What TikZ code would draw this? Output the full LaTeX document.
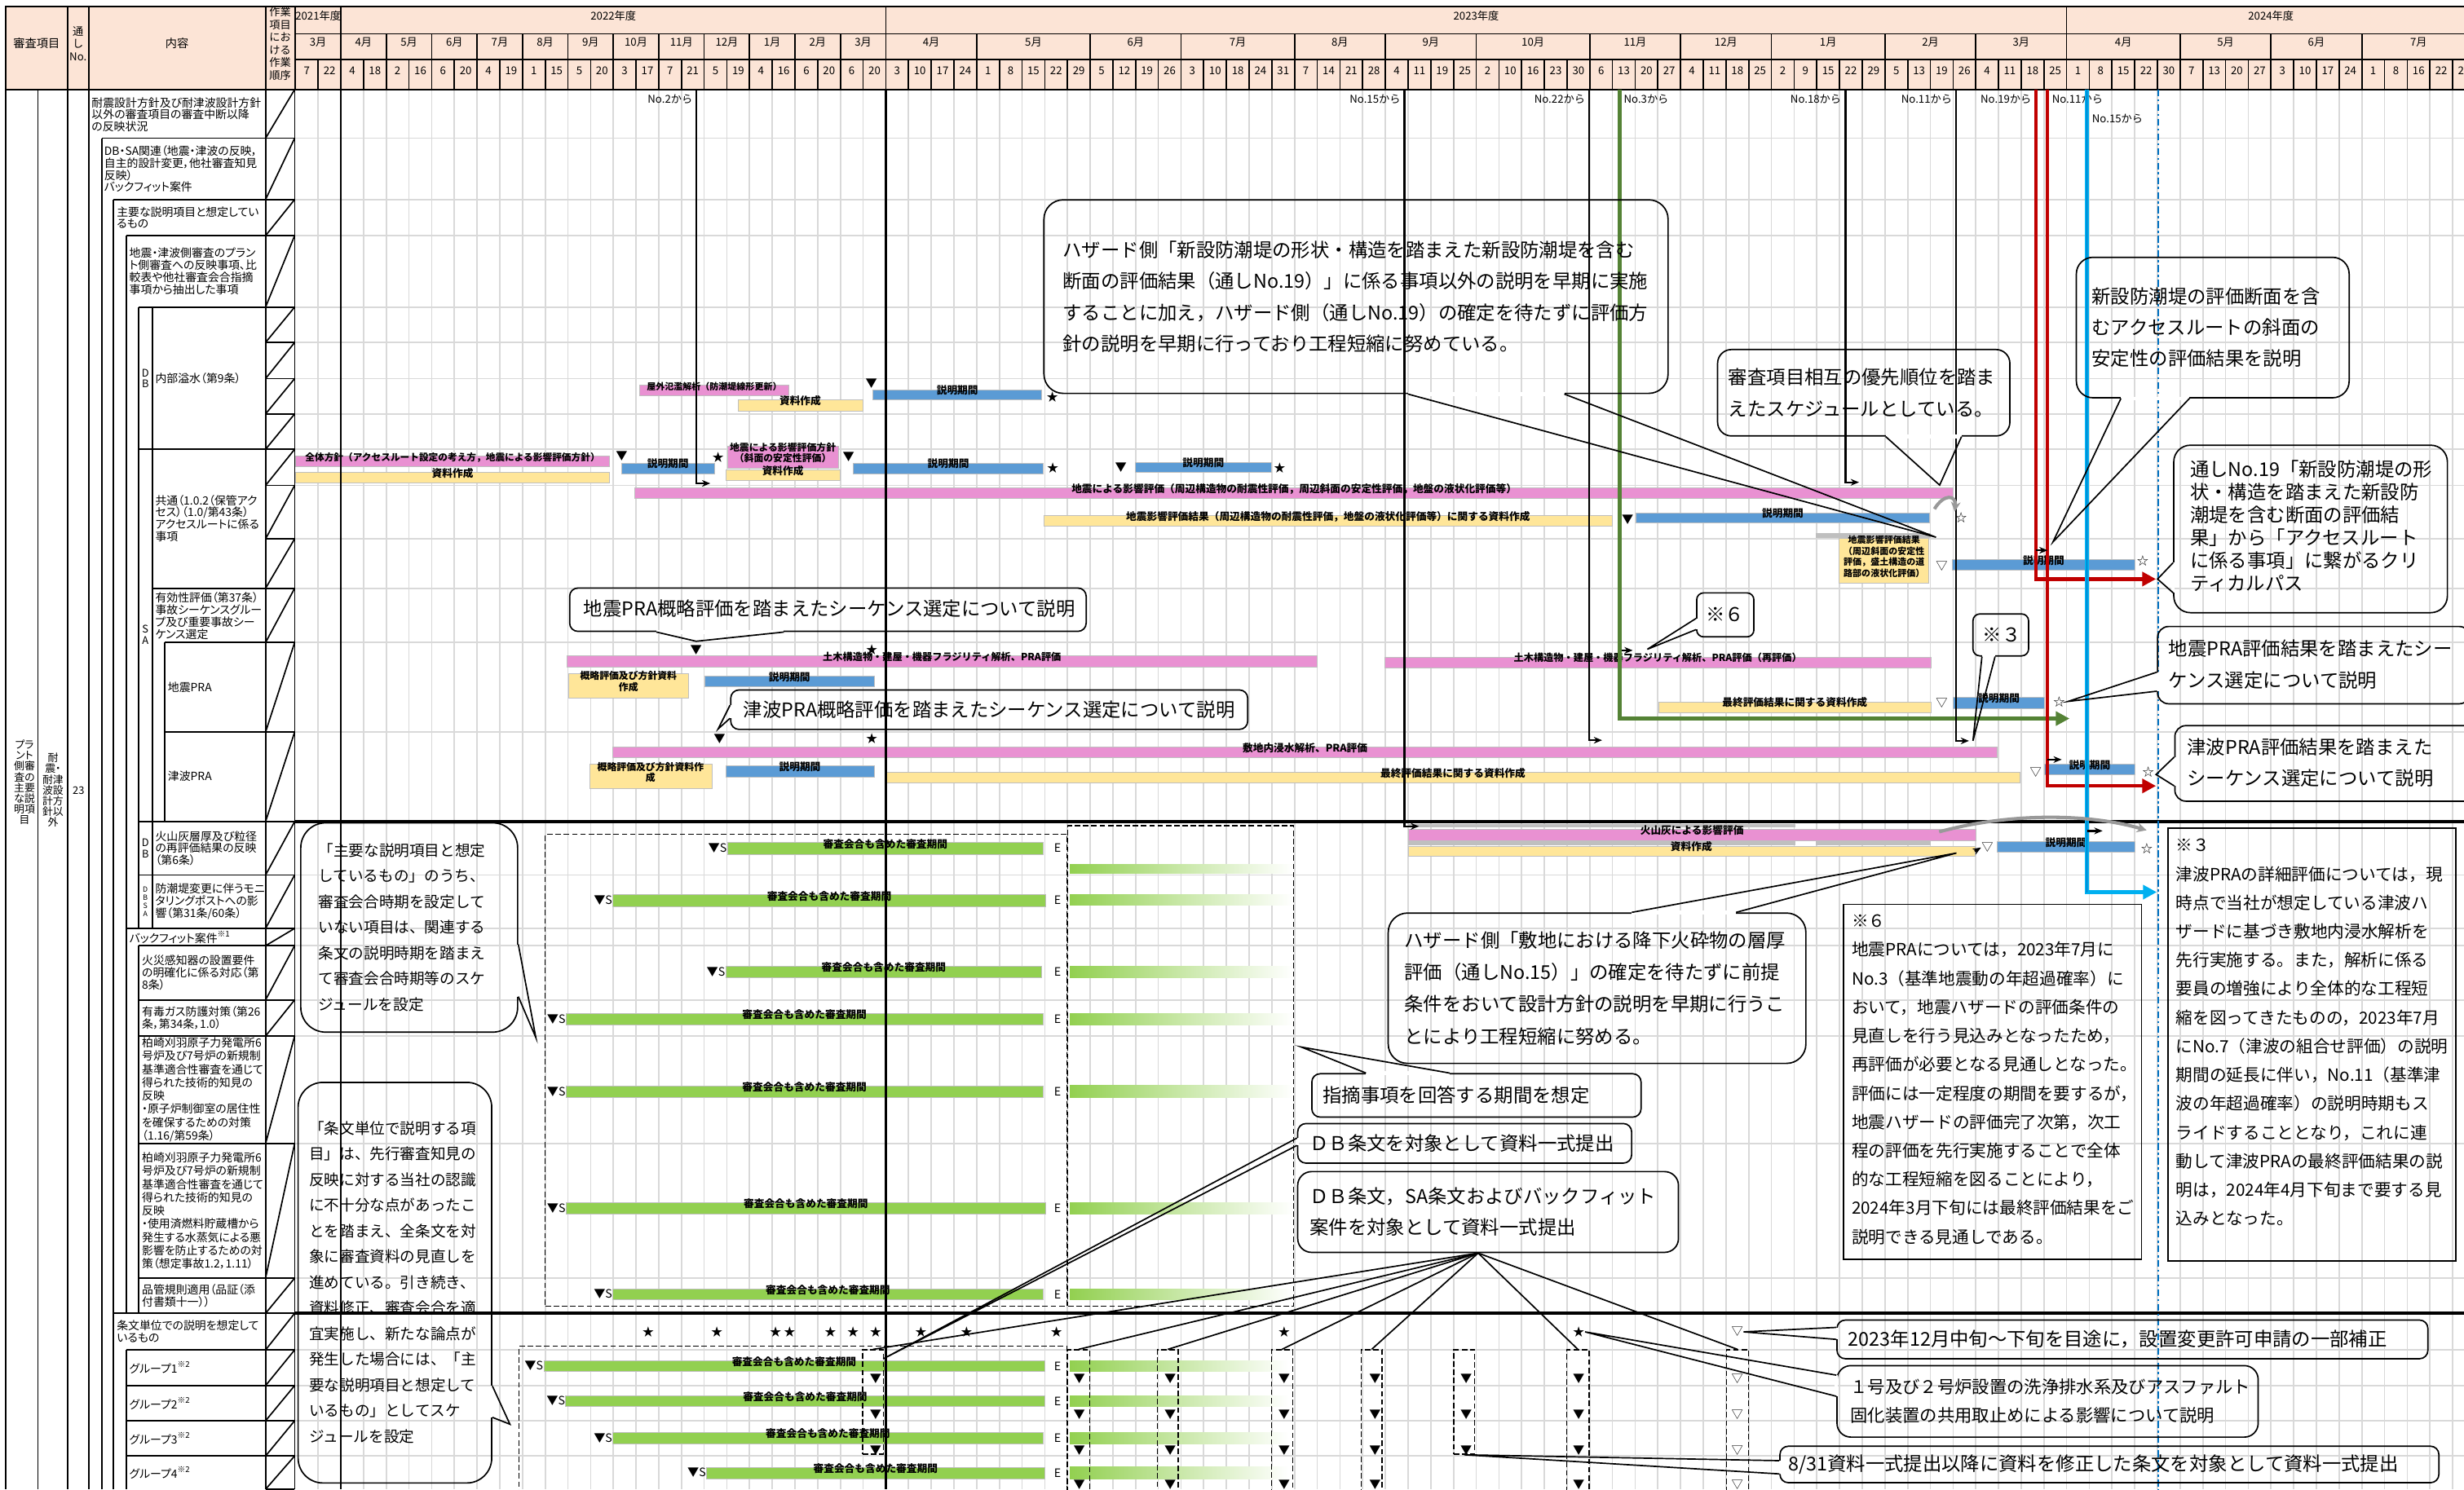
\documentclass[tikz,border=0pt]{standalone}
\usepackage{fontspec}
\setmainfont{Noto Sans CJK JP}
\newfontfamily\tabfont{Noto Sans CJK JP}[RawFeature=+palt]
\usetikzlibrary{arrows.meta,calc,fit}

\definecolor{hdrpink}{HTML}{FCE4D6}
\definecolor{gridgray}{HTML}{D9D9D9}
\definecolor{barpink}{HTML}{E991D2}
\definecolor{baryellow}{HTML}{FFE699}
\definecolor{barblue}{HTML}{5B9BD5}
\definecolor{bargreen}{HTML}{92D050}
\definecolor{bargray}{HTML}{BFBFBF}
\definecolor{pathred}{HTML}{C00000}
\definecolor{pathgreen}{HTML}{548235}
\definecolor{pathblue}{HTML}{00B0F0}
\definecolor{dotblue}{HTML}{0070C0}

\newcommand\fhead{\fontsize{3.9pt}{4.6pt}\selectfont}
\newcommand\ftab{\tabfont\fontsize{4.1pt}{4.4pt}\selectfont}
\newcommand\ftabw{\tabfont\fontsize{4.1pt}{4.8pt}\selectfont}
\newcommand\fbar{\fontsize{3.75pt}{4.2pt}\selectfont\bfseries}
\newcommand\fbarii{\fontsize{3.5pt}{3.9pt}\selectfont\bfseries}
\newcommand\fmark{\fontsize{4.2pt}{4.2pt}\selectfont}
\newcommand\fcall{\fontsize{6.9pt}{11.3pt}\selectfont}
\newcommand\fside{\fontsize{5.5pt}{9.3pt}\selectfont}
\newcommand\fnote{\fontsize{6.1pt}{10.4pt}\selectfont}

% callout tail: node, corner, corner, fraction, fraction, tip
\newcommand\tail[6]{%
  \coordinate (#1-a) at ($(#1.#2)!#4!(#1.#3)$);
  \coordinate (#1-b) at ($(#1.#2)!#5!(#1.#3)$);
  \draw[white, line width=1.3pt] (#1-a) -- (#1-b);
  \draw[line width=0.5pt, line join=miter] (#1-a) -- (#6) -- (#1-b);}

\begin{document}
\begin{tikzpicture}[
  x=0.2mm, y=-0.2mm,
  >={Stealth[length=3pt,width=2.4pt]},
  grid/.style={draw=gridgray, line width=0.5pt},
  tab/.style={line width=0.5pt},
  hdr/.style={draw, fill=hdrpink, line width=0.5pt, inner sep=0pt},
  htxt/.style={font=\fhead, align=center},
  ttxt/.style={font=\ftab, inner sep=0pt, align=left, anchor=west},
  ltr/.style={font=\tabfont\fontsize{3.8pt}{3.9pt}\selectfont, inner sep=0pt, align=center},
  bar/.style={inner sep=0pt, outer sep=0pt, draw=black!25, line width=0.2pt,
    font=\fbar, text height=2.5pt, text depth=0.4pt},
  pbar/.style={bar, fill=barpink},
  ybar/.style={bar, fill=baryellow},
  bbar/.style={bar, fill=barblue},
  gbar/.style={bar, fill=bargreen},
  graybar/.style={inner sep=0pt, fill=bargray},
  twoline/.style={text height={}, text depth={}, align=center, font=\fbarii},
  mk/.style={font=\fmark, inner sep=0pt},
  vline/.style={line width=0.7pt},
  crit/.style={line width=1.3pt, -{Triangle[length=5pt,width=5pt]}},
  call/.style={draw, rounded corners=3pt, inner sep=0pt, line width=0.5pt},
  ctxt/.style={inner sep=0pt, anchor=west, align=left, font=\fcall},
  note/.style={draw, inner sep=0pt, line width=0.5pt},
  dbox/.style={draw, dash pattern=on 2pt off 1pt, inner sep=0pt, line width=0.4pt},
  lab/.style={font=\fhead, inner sep=0pt}
]
\useasboundingbox (0,0) rectangle (1568,948);
\clip (0,0) rectangle (1568,948);
\def\cw{14.45}

% grid of the time axis
\foreach \k in {1,...,96}
  \draw[grid] ({188+\cw*\k},57) -- ({188+\cw*\k},948);
\foreach \y in {88,127,150,195.5,218,241,263.5,286,309,343,374.5,409,466,557,591,602,636.5,659.5,728,813.6,859.3,882,904.4,926.8}
  \draw[grid] (187.5,\y) -- (1568,\y);

% header
\node[hdr, htxt, font=\fontsize{4.2pt}{4.6pt}\selectfont, fit={(3.6,4.3)(43,57)}] (hItem) {審査項目};
\node[hdr, htxt, fit={(43,4.3)(56.4,57)}] (hNo) {通\\し\\No.};
\node[hdr, htxt, font=\fontsize{4.2pt}{4.6pt}\selectfont, fit={(56.4,4.3)(169,57)}] (hBody) {内容};
\node[hdr, htxt, fit={(169,4.3)(187.5,57)}] (hOrder) {作業\\項目\\にお\\ける\\作業\\順序};
\foreach \xa/\xb/\yl in {0/2/2021年度,2/26/2022年度,26/78/2023年度,78/96/2024年度}
  \node[hdr, htxt, fit={({188+\cw*\xa},4.3)({188+\cw*\xb},21.6)}] (yr\xa) {\yl};
\foreach \s/\n/\m [count=\k] in {0/2/3月,2/2/4月,4/2/5月,6/2/6月,8/2/7月,10/2/8月,12/2/9月,14/2/10月,16/2/11月,18/2/12月,20/2/1月,22/2/2月,24/2/3月,26/4/4月,30/5/5月,35/4/6月,39/5/7月,44/4/8月,48/4/9月,52/5/10月,57/4/11月,61/4/12月,65/5/1月,70/4/2月,74/4/3月,78/5/4月,83/4/5月,87/4/6月,91/5/7月}
  \node[hdr, htxt, fit={({188+\cw*\s},21.6)({188+\cw*(\s+\n)},38)}] (mo\k) {\m};
\foreach \dd [count=\k from 0] in {7,22,4,18,2,16,6,20,4,19,1,15,5,20,3,17,7,21,5,19,4,16,6,20,6,20,3,10,17,24,1,8,15,22,29,5,12,19,26,3,10,18,24,31,7,14,21,28,4,11,19,25,2,10,16,23,30,6,13,20,27,4,11,18,25,2,9,15,22,29,5,13,19,26,4,11,18,25,1,8,15,22,30,7,13,20,27,3,10,17,24,1,8,16,22,29}
  \node[hdr, htxt, fit={({188+\cw*\k},38)({188+\cw*(\k+1)},57)}] (dy\k) {\dd};

% left table
\draw[line width=0.8pt] (3.6,57) -- (1568,57);
\draw[tab] (3.6,4.3) -- (3.6,948);
\draw[tab] (24.2,57) -- (24.2,948);
\draw[tab] (43,57) -- (43,948);
\draw[tab] (56.4,57) -- (56.4,948);
\draw[tab] (64.9,88) -- (64.9,948);
\draw[tab] (72.3,127) -- (72.3,948);
\draw[tab] (80.4,150) -- (80.4,836);
\draw[tab] (80.4,859.3) -- (80.4,948);
\draw[tab] (88.2,195.5) -- (88.2,591);
\draw[tab] (88.2,602) -- (88.2,836);
\draw[tab] (96.9,195.5) -- (96.9,591);
\draw[tab] (104.7,409) -- (104.7,523);
\draw[tab] (169,57) -- (169,948);
\draw[tab] (187.5,57) -- (187.5,948);
\foreach \y/\x in {88/64.9,127/72.3,150/80.4,195.5/88.2,286/88.2,374.5/96.9,409/104.7,466/104.7,523/88.2,557/88.2,591/80.4,602/88.2,636.5/88.2,659.5/88.2,728/88.2,813.6/88.2,836/72.3,859.3/80.4,882/80.4,904.4/80.4,926.8/80.4}
  \draw[tab] (\x,\y) -- (169,\y);
\foreach \ya/\yb in {57/88,88/127,127/150,150/195.5,195.5/218,218/241,241/263.5,263.5/286,286/309,309/343,343/374.5,374.5/409,409/466,466/523,523/557,557/591,591/602,602/636.5,636.5/659.5,659.5/728,728/813.6,813.6/836,836/859.3,859.3/882,882/904.4,904.4/926.8,926.8/948}
  {\draw[tab] (169,\yb) -- (187.5,\ya); \draw[tab] (169,\yb) -- (187.5,\yb);}

\node[ltr] (lPlant) at (15.6,498) {プラ\\ント\\側審\\査の\\主要\\な説\\明項\\目};
\node[ltr] (lSeis) at (33.7,503) {耐\\震・\\耐津\\波設\\計方\\針以\\外};
\node[ltr] (lNo) at (50,503) {23};
\node[ttxt] (lt1) at (58,73) {耐震設計方針及び耐津波設計方針\\以外の審査項目の審査中断以降\\の反映状況};
\node[ttxt] (lt2) at (66,107.5) {DB・SA関連（地震・津波の反映，\\自主的設計変更，他社審査知見\\反映）\\バックフィット案件};
\node[ttxt] (lt3) at (74,138.5) {主要な説明項目と想定してい\\るもの};
\node[ttxt] (lt4) at (82,172.6) {地震・津波側審査のプラン\\ト側審査への反映事項、比\\較表や他社審査会合指摘\\事項から抽出した事項};
\node[ltr] (lDB1) at (92.5,240.7) {D\\B};
\node[ttxt] (lt5) at (98.5,241) {内部溢水（第9条）};
\node[ltr] (lSA) at (92.5,404) {S\\A};
\node[ttxt] (lt6) at (98.5,330) {共通（1.0.2（保管アク\\セス）（1.0/第43条）\\アクセスルートに係る\\事項};
\node[ttxt] (lt7) at (98.5,392) {有効性評価（第37条）\\事故シーケンスグルー\\プ及び重要事故シー\\ケンス選定};
\node[ttxt] (lt8) at (106.5,437.5) {地震PRA};
\node[ttxt] (lt9) at (106.5,494) {津波PRA};
\node[ltr] (lDB2) at (92.5,540) {D\\B};
\node[ttxt] (lt10) at (98.5,540) {火山灰層厚及び粒径\\の再評価結果の反映\\（第6条）};
\node[ltr, font=\tabfont\fontsize{2.6pt}{2.9pt}\selectfont] (lDBSA) at (92.5,574) {D\\B\\S\\A};
\node[ttxt] (lt11) at (98.5,574) {防潮堤変更に伴うモニ\\タリングポストへの影\\響（第31条/60条）};
\node[ttxt] (lt12) at (82,596.5) {バックフィット案件\textsuperscript{※1}};
\node[ttxt] (lt13) at (90,619.3) {火災感知器の設置要件\\の明確化に係る対応（第\\8条）};
\node[ttxt] (lt14) at (90,648) {有毒ガス防護対策（第26\\条，第34条，1.0）};
\node[ttxt, font=\ftabw] (lt15) at (90,693.7) {柏崎刈羽原子力発電所6\\号炉及び7号炉の新規制\\基準適合性審査を通じて\\得られた技術的知見の\\反映\\・原子炉制御室の居住性\\を確保するための対策\\（1.16/第59条）};
\node[ttxt, font=\ftabw] (lt16) at (90,770.8) {柏崎刈羽原子力発電所6\\号炉及び7号炉の新規制\\基準適合性審査を通じて\\得られた技術的知見の\\反映\\・使用済燃料貯蔵槽から\\発生する水蒸気による悪\\影響を防止するための対\\策（想定事故1.2，1.11）};
\node[ttxt] (lt17) at (90,825) {品管規則適用（品証（添\\付書類十一））};
\node[ttxt] (lt18) at (74,847.6) {条文単位での説明を想定して\\いるもの};
\foreach \y [count=\g] in {870.6,893.2,915.6,937.4}
  \node[ttxt] (grp\g) at (82,\y) {グループ\g\textsuperscript{※2}};

% bars: 内部溢水
\node[pbar, font=\fontsize{3.25pt}{3.6pt}\selectfont\bfseries, fit={(407,245)(502,252)}] (flood) {屋外氾濫解析（防潮堤線形更新）};
\node[ybar, fit={(469.5,254.6)(549,261.6)}] (floodDoc) {資料作成};
\node[bbar, fit={(555.5,248)(663,254.6)}] (floodExp) {説明期間};
% bars: 共通
\node[pbar, font=\fontsize{3.45pt}{3.8pt}\selectfont\bfseries, fit={(188,290.4)(388,297.2)}] (accPol) {全体方針（アクセスルート設定の考え方，地震による影響評価方針）};
\node[ybar, fit={(188,300.8)(388,307.3)}] (accDoc) {資料作成};
\node[bbar, fit={(395.6,294.8)(454.5,301.4)}] (accExp) {説明期間};
\node[pbar, twoline, fit={(463,284.2)(533.3,297.8)}] (slopePol) {地震による影響評価方針\\（斜面の安定性評価）};
\node[ybar, fit={(461.8,299.2)(534.6,305.7)}] (slopeDoc) {資料作成};
\node[bbar, fit={(543,294.8)(664,301.4)}] (slopeExp) {説明期間};
\node[bbar, fit={(722.2,294.2)(809.3,300.8)}] (slopeExp2) {説明期間};
\node[pbar, fit={(404,310.7)(1243,317.2)}] (seisEval) {地震による影響評価（周辺構造物の耐震性評価，周辺斜面の安定性評価，地盤の液状化評価等）};
\node[ybar, fit={(664.5,328.2)(1025.8,335)}] (seisDoc) {地震影響評価結果（周辺構造物の耐震性評価，地盤の液状化評価等）に関する資料作成};
\node[bbar, fit={(1041,326.5)(1228,333)}] (seisExp) {説明期間};
\node[graybar, fit={(1155.4,339.5)(1228.8,342.5)}] (slopeGray) {};
\node[ybar, text height={}, text depth={}, align=left, font=\fontsize{3.25pt}{3.95pt}\selectfont\bfseries, fit={(1170.4,342.5)(1227.5,371)}] (slopeRes) {地震影響評価結果\\（周辺斜面の安定性\\評価，盛土構造の道\\路部の液状化評価）};
\node[bbar, fit={(1242.4,356.2)(1358.6,362.7)}] (slopeExp3) {説明期間};
% bars: 地震PRA
\node[pbar, font=\fontsize{3.6pt}{4pt}\selectfont\bfseries, fit={(360.9,417.5)(838,424.4)}] (seisFrag) {土木構造物・建屋・機器フラジリティ解析、PRA評価};
\node[ybar, twoline, fit={(361.9,428.5)(438,444.4)}] (seisPre) {概略評価及び方針資料\\作成};
\node[bbar, fit={(448.6,430.4)(556.2,437.3)}] (seisPreExp) {説明期間};
\node[pbar, font=\fontsize{3.6pt}{4pt}\selectfont\bfseries, fit={(881.1,418.3)(1228.8,424.9)}] (seisFrag2) {土木構造物・建屋・機器フラジリティ解析、PRA評価（再評価）};
\node[ybar, fit={(1055.5,447)(1228.8,453.4)}] (seisFin) {最終評価結果に関する資料作成};
\node[bbar, fit={(1243,444)(1301,451)}] (seisFinExp) {説明期間};
% bars: 津波PRA
\node[pbar, fit={(390,475.5)(1271,482.4)}] (tsuFlood) {敷地内浸水解析、PRA評価};
\node[ybar, twoline, fit={(375.1,486.6)(452.9,502.1)}] (tsuPre) {概略評価及び方針資料作\\成};
\node[bbar, fit={(461.8,487.6)(556.2,494.5)}] (tsuPreExp) {説明期間};
\node[ybar, fit={(563.8,491.7)(1285.4,498.3)}] (tsuFin) {最終評価結果に関する資料作成};
\node[bbar, fit={(1301,486.4)(1358.6,493)}] (tsuFinExp) {説明期間};
% bars: 火山灰
\node[graybar, fit={(896,524.4)(1142.6,526.8)}] (ashGray1) {};
\node[pbar, fit={(896,528)(1257.4,535)}] (ashEval) {火山灰による影響評価};
\node[graybar, fit={(896,535.6)(1142.6,538)}] (ashGray2) {};
\node[graybar, fit={(1155.4,535.6)(1228.8,538)}] (ashGray3) {};
\node[ybar, fit={(896,538.6)(1256.6,545.2)}] (ashDoc) {資料作成};
\node[bbar, fit={(1271,535.8)(1358.6,542.4)}] (ashExp) {説明期間};

% review periods
\foreach \a/\b in {550.3/555.8,569.5/576.4,615/622.2,645.2/652.3,691.1/698.8,765.5/772.6,820.5/827.3}
  \shade[left color=bargreen, right color=white] (680.8,\a) rectangle (823,\b);
\foreach \a/\b in {866.1/872.9,888.5/895.4,912/918.9,933.9/941.3}
  \shade[left color=bargreen, right color=white] (680.8,\a) rectangle (819.9,\b);
\foreach \nm/\xa/\ya/\xb/\yb in {rv1/462.8/535.9/664/544, rv2/390/569.5/665.4/576.9, rv3/461.8/615/663/622.2, rv4/360.2/645.2/663.7/652.3, rv5/360.2/691.1/663.7/698.8, rv6/360.2/765.5/665.4/772.6, rv7/390/820.5/663.7/827.3, gp1/346/866.1/664.7/872.9, gp2/360/888.5/664.7/895.4, gp3/390/912/663.7/918.9, gp4/449.6/933.9/664.7/941.3}
{
  \node[gbar, fit={(\xa,\ya)(\xb,\yb)}] (\nm) {審査会合も含めた審査期間};
  \node[mk, anchor=east] (\nm-s) at (\nm.west) {▼S};
  \node[mk] (\nm-e) at (673,{(\ya+\yb)/2}) {E};
}
\node[dbox, fit={(347,531.2)(679,831.4)}] (rvBox) {};
\node[dbox, fit={(679.6,525.6)(823.2,831.4)}] (rvBox2) {};
\node[dbox, fit={(330.4,857)(679,970)}] (gpBox) {};
\foreach \xa/\xb/\yb [count=\i] in {548.9/562.1/925.7,679.2/693.4/960,736.5/749.7/960,809/822.5/960,866.2/879.5/960,925.1/938.4/925.7,997/1011.2/960,1098.6/1112.8/960}
  \node[dbox, fit={(\xa,859.3)(\xb,\yb)}] (k\i) {};
\foreach \x [count=\i] in {686.8,744.7,817.2,875.1,1004.6}
  \foreach \y [count=\j] in {877.9,900.8,923.5,945.4}
    \node[mk] (dn\i-\j) at (\x,\y) {▼};
\foreach \y [count=\j] in {877.9,900.8,923.5}
  {\node[mk] (dnA-\j) at (557.2,\y) {▼}; \node[mk] (dnB-\j) at (933,\y) {▼};}
\foreach \y [count=\j] in {877.9,900.8,923.5,945.4}
  \node[mk] (up-\j) at (1105.5,\y) {▽};

% milestones
\foreach \x/\y/\s [count=\i] in {554.5/244/▼,669.7/252.6/★,395.6/290.4/▼,457/291/★,540/290.8/▼,670/297.8/★,713.3/297.8/▼,814.3/297.8/★,1035.7/330.6/▼,1235.6/360.6/▽,1363.5/356.8/☆,443/413.7/▼,554.8/413.7/★,1235.6/447.6/▽,457.9/470.3/▼,554.8/470.3/★,1295.5/491.5/▽,412.5/847.8/★,456.2/847.8/★,493.6/847.8/★,502.5/847.8/★,528.4/847.8/★,542.9/847.8/★,557.2/847.8/★,586/847.8/★,615.1/847.8/★,672.3/847.8/★,817.2/847.8/★}
  \node[mk] (mk\i) at (\x,\y) {\s};
\node[mk] (sqA) at (1248,329.3) {☆};
\node[mk] (sqB) at (1310.4,447) {☆};
\node[mk] (sqC) at (1367,491.5) {☆};
\node[mk] (trA) at (1264.7,539.5) {▽};
\node[mk] (sqD) at (1366.2,540) {☆};
\node[mk] (stE) at (1004.6,847.8) {★};
\node[mk] (trE) at (1105.5,847.8) {▽};

% year lines and section rules
\draw[vline] (216.9,57) -- (216.9,948);
\draw[vline] (563.7,57) -- (563.7,948);
\draw[line width=1.1pt] (187.5,523) -- (1568,523);
\draw[line width=1.1pt] (187.5,836) -- (1568,836);

% dependency lines
\node[lab, anchor=east] (l2) at (441,63) {No.2から};
\node[lab, anchor=east] (l15) at (891.5,63) {No.15から};
\node[lab, anchor=east] (l22) at (1009,63) {No.22から};
\node[lab, anchor=west] (l3) at (1033,63) {No.3から};
\node[lab, anchor=east] (l18) at (1172,63) {No.18から};
\node[lab, anchor=east] (l11) at (1242.5,63) {No.11から};
\node[lab, anchor=east] (l19) at (1293,63) {No.19から};
\node[lab, anchor=west] (l11b) at (1305.5,63) {No.11から};
\node[lab, anchor=west] (l15b) at (1331,75.6) {No.15から};

\coordinate (n2a) at (443,57);      \coordinate (n2b) at (452,307.7);
\coordinate (n15a) at (893.7,57);   \coordinate (n15b) at (903,526);
\coordinate (n22a) at (1011.2,57);  \coordinate (n22b) at (1019.5,471.2);
\coordinate (n3a) at (1030.7,57);   \coordinate (n3b) at (1039,414);
\coordinate (n3c) at (1317,457.4);
\coordinate (n18a) at (1174.4,57);  \coordinate (n18b) at (1183,307);
\coordinate (n11a) at (1244.6,57);  \coordinate (n11b) at (1253,471.6);
\coordinate (n19a) at (1295.5,57);  \coordinate (n19b) at (1372,368.6);
\coordinate (n11c) at (1302.8,57);  \coordinate (n11d) at (1372,500.3);
\coordinate (n15c) at (1328.1,57);  \coordinate (n15d) at (1372.5,567.9);
\coordinate (dotA) at (1373.5,57);  \coordinate (dotB) at (1373.5,948);

\draw[vline,->] (n2a) |- (n2b);
\draw[vline,->] (n15a) |- (n15b);
\draw[vline,->] (n22a) |- (n22b);
\draw[vline,->] (n3a) |- (n3b);
\draw[pathgreen, crit] (n3a) |- (n3c);
\draw[vline,->] (n18a) |- (n18b);
\draw[vline,->] (n11a) |- (n11b);
\draw[pathred, crit] (n19a) |- (n19b);
\draw[pathred, crit] (n11c) |- (n11d);
\draw[pathblue, crit] (n15c) |- (n15d);
\draw[dotblue, line width=0.35pt] (n15c) -- (1328.1,567.9);
\draw[dotblue, line width=0.7pt, dash pattern=on 2.5pt off 1pt on 0.8pt off 1pt] (dotA) -- (dotB);
\coordinate (r1a) at (1295.5,350.3); \coordinate (r1b) at (1303,350.3);
\coordinate (r2a) at (1302.8,483.5); \coordinate (r2b) at (1312,483.5);
\coordinate (r3a) at (1328.1,528.9); \coordinate (r3b) at (1338,528.9);
\draw[vline,->] (r1a) -- (r1b);
\draw[vline,->] (r2a) -- (r2b);
\draw[vline,->] (r3a) -- (r3b);
\draw[vline,->] (ashDoc.east) -- (trA.west);

% grey shift arrows
\coordinate (ga1) at (1231,324);
\coordinate (ga2) at (1234,529.5);
\coordinate (ga2e) at (1366,528.5);
\draw[black!40, line width=1.2pt, -{Stealth[length=3.5pt,width=3.5pt]}] (ga1) .. controls (1237,314) and (1245,315) .. (sqA.north west);
\draw[black!40, line width=1.2pt, -{Stealth[length=3.5pt,width=3.5pt]}] (ga2) .. controls (1280,517) and (1330,518) .. (ga2e);

% callouts
\node[call, rounded corners=7pt, fit={(664.3,127.2)(1061.5,250.4)}] (cHaz) {};
\node[ctxt] (cHazT) at (676,188.9) {ハザード側「新設防潮堤の形状・構造を踏まえた新設防潮堤を含む\\断面の評価結果（通しNo.19）」に係る事項以外の説明を早期に実施\\することに加え，ハザード側（通しNo.19）の確定を待たずに評価方\\針の説明を早期に行っており工程短縮に努めている。};
\coordinate (tHaz) at (1232,342);
\tail{cHaz}{south west}{south east}{.583}{.833}{tHaz}

\node[call, rounded corners=5pt, fit={(1093,222.5)(1279,277.5)}] (cOrd) {};
\node[ctxt] (cOrdT) at (1099.6,250) {審査項目相互の優先順位を踏ま\\えたスケジュールとしている。};
\coordinate (tOrd) at (1234.3,308.8);
\tail{cOrd}{south west}{south east}{.575}{.833}{tOrd}

\node[call, rounded corners=6pt, fit={(1321.3,163.8)(1494.9,253.2)}] (cSec) {};
\node[ctxt] (cSecT) at (1330.8,208.3) {新設防潮堤の評価断面を含\\むアクセスルートの斜面の\\安定性の評価結果を説明};
\coordinate (tSec) at (1306.4,345);
\tail{cSec}{south west}{south east}{.165}{.415}{tSec}

\node[call, rounded corners=6pt, fit={(1383.3,283.4)(1557.4,390)}] (cCrit) {};
\node[ctxt, font=\fontsize{6.9pt}{8.3pt}\selectfont] (cCritT) at (1393.4,335) {通しNo.19「新設防潮堤の形\\状・構造を踏まえた新設防\\潮堤を含む断面の評価結\\果」から「アクセスルート\\に係る事項」に繋がるクリ\\ティカルパス};
\coordinate (tCrit) at (1373,368.6);
\tail{cCrit}{north west}{south west}{.70}{.878}{tCrit}

\node[call, rounded corners=4pt, fit={(1373,398.8)(1572,448)}] (cSeis) {};
\node[ctxt] (cSeisT) at (1379.8,423) {地震PRA評価結果を踏まえたシー\\ケンス選定について説明};
\coordinate (tSeis) at (1316,446.5);
\tail{cSeis}{north west}{south west}{.589}{.831}{tSeis}

\node[call, rounded corners=4pt, fit={(1384,461.9)(1575,510)}] (cTsu) {};
\node[ctxt] (cTsuT) at (1391.5,485.5) {津波PRA評価結果を踏まえた\\シーケンス選定について説明};
\coordinate (tTsu) at (1372,493);
\tail{cTsu}{north west}{south west}{.418}{.792}{tTsu}

\node[call, rounded corners=2.5pt, fit={(1255.5,390.8)(1290.9,417.5)}] (cN3) {};
\node[ctxt] (cN3T) at (1261.5,404.1) {※３};
\coordinate (tN3) at (1255.5,471.6);
\tail{cN3}{south west}{south east}{.17}{.4}{tN3}

\node[call, rounded corners=2.5pt, fit={(1079.7,377.4)(1116.1,405.4)}] (cN6) {};
\node[ctxt] (cN6T) at (1085.3,391) {※６};
\coordinate (tN6) at (1048.3,413.3);
\tail{cN6}{north west}{south west}{.579}{.825}{tN6}

\node[call, fit={(362.5,374.3)(691.2,401.9)}] (cSeisA) {};
\node[ctxt] (cSeisAT) at (371.1,387.4) {地震PRA概略評価を踏まえたシーケンス選定について説明};
\coordinate (tSeisA) at (443,408.2);
\tail{cSeisA}{south west}{south east}{.169}{.415}{tSeisA}

\node[call, fit={(465,439.2)(794,464.3)}] (cTsuA) {};
\node[ctxt] (cTsuAT) at (472.7,451.7) {津波PRA概略評価を踏まえたシーケンス選定について説明};
\coordinate (tTsuA) at (457,464);
\tail{cTsuA}{north west}{south west}{.39}{.71}{tTsuA}

\node[call, rounded corners=9pt, fit={(191.4,523.8)(329.4,657)}] (cMain) {};
\node[ctxt, font=\fside] (cMainT) at (202.3,590.3) {「主要な説明項目と想定\\しているもの」のうち、\\審査会合時期を設定して\\いない項目は、関連する\\条文の説明時期を踏まえ\\て審査会合時期等のスケ\\ジュールを設定};
\coordinate (tMain) at (341,660.5);
\tail{cMain}{north east}{south east}{.58}{.828}{tMain}

\node[call, rounded corners=9pt, fit={(189.7,689)(312.9,944)}] (cArt) {};
\node[ctxt, font=\fside] (cArtT) at (196.4,816.3) {「条文単位で説明する項\\目」は、先行審査知見の\\反映に対する当社の認識\\に不十分な点があったこ\\とを踏まえ、全条文を対\\象に審査資料の見直しを\\進めている。引き続き、\\資料修正、審査会合を適\\宜実施し、新たな論点が\\発生した場合には、「主\\要な説明項目と想定して\\いるもの」としてスケ\\ジュールを設定};
\coordinate (tArt) at (324.5,906.6);
\tail{cArt}{north east}{south east}{.757}{.835}{tArt}

\node[call, rounded corners=7pt, fit={(883.4,581.2)(1149.2,676.9)}] (cAsh) {};
\node[ctxt, font=\fontsize{6.9pt}{11.6pt}\selectfont] (cAshT) at (893.4,629) {ハザード側「敷地における降下火砕物の層厚\\評価（通しNo.15）」の確定を待たずに前提\\条件をおいて設計方針の説明を早期に行うこ\\とにより工程短縮に努める。};
\coordinate (tAsh) at (1245,543);
\tail{cAsh}{north west}{north east}{.583}{.832}{tAsh}

\node[call, fit={(834.8,683.5)(1044.3,711.1)}] (cResp) {};
\node[ctxt] (cRespT) at (841.4,697.2) {指摘事項を回答する期間を想定};
\coordinate (tResp) at (828.1,666.5);
\tail{cResp}{north west}{north east}{.166}{.419}{tResp}

\node[call, fit={(825.8,715.2)(1038.3,740.4)}] (cDB) {};
\node[ctxt] (cDBT) at (833.1,728) {ＤＢ条文を対象として資料一式提出};
\coordinate (tDB) at (562,865);
\tail{cDB}{north west}{south west}{.37}{.55}{tDB}

\node[call, rounded corners=5pt, fit={(825.8,745.8)(1068.1,797.2)}] (cDBSA) {};
\node[ctxt] (cDBSAT) at (833.1,771.2) {ＤＢ条文，SA条文およびバックフィット\\案件を対象として資料一式提出};
\coordinate (cDBSA-o) at ($(cDBSA.south west)!.474!(cDBSA.south east)$);
\foreach \k in {k1,k2,k3,k4,k5,k7,k8}
  \draw[line width=0.5pt] (cDBSA-o) -- (\k.north);

\node[call, fit={(1169,840.3)(1545,864.9)}] (cDec) {};
\node[ctxt] (cDecT) at (1175.8,852.5) {2023年12月中旬～下旬を目途に，設置変更許可申請の一部補正};
\tail{cDec}{north west}{south west}{.2}{.5}{trE.east}

\node[call, rounded corners=5pt, fit={(1169,869.3)(1437,914.8)}] (cDrain) {};
\node[ctxt, font=\fontsize{6.3pt}{10.3pt}\selectfont] (cDrainT) at (1177.2,892.1) {１号及び２号炉設置の洗浄排水系及びアスファルト\\固化装置の共用取止めによる影響について説明};
\tail{cDrain}{north west}{south west}{.14}{.43}{stE.east}

\node[call, fit={(1132.7,920.6)(1552,943.8)}] (cAug) {};
\node[ctxt] (cAugT) at (1137.6,932.2) {8/31資料一式提出以降に資料を修正した条文を対象として資料一式提出};
\tail{cAug}{north west}{south west}{.4}{.75}{k6.south}

% notes
\node[note, fit={(1173.1,575.7)(1362.7,801.8)}] (n6) {};
\node[ctxt, font=\fnote] (n6T) at (1178,687.3) {※６\\地震PRAについては，2023年7月に\\No.3（基準地震動の年超過確率）に\\おいて，地震ハザードの評価条件の\\見直しを行う見込みとなったため，\\再評価が必要となる見通しとなった。\\評価には一定程度の期間を要するが，\\地震ハザードの評価完了次第，次工\\程の評価を先行実施することで全体\\的な工程短縮を図ることにより，\\2024年3月下旬には最終評価結果をご\\説明できる見通しである。};
\node[note, fit={(1379.8,527.3)(1562.9,802.7)}] (n3) {};
\node[ctxt, font=\fnote] (n3T) at (1384.4,657.3) {※３\\津波PRAの詳細評価については，現\\時点で当社が想定している津波ハ\\ザードに基づき敷地内浸水解析を\\先行実施する。また，解析に係る\\要員の増強により全体的な工程短\\縮を図ってきたものの，2023年7月\\にNo.7（津波の組合せ評価）の説明\\期間の延長に伴い，No.11（基準津\\波の年超過確率）の説明時期もス\\ライドすることとなり，これに連\\動して津波PRAの最終評価結果の説\\明は，2024年4月下旬まで要する見\\込みとなった。};

\end{tikzpicture}
\end{document}
